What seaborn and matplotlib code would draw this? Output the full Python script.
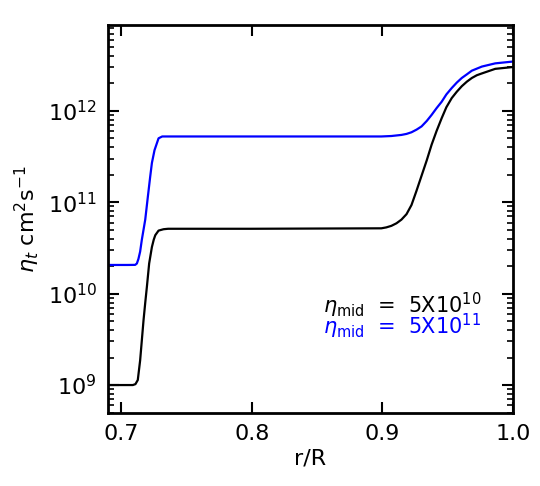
import numpy as np
import pandas as pd
import matplotlib
matplotlib.use("Agg")
import matplotlib.pyplot as plt
import seaborn as sns
from matplotlib.ticker import LogLocator, FixedLocator, NullFormatter

# Data (r/R, log10 eta_t)
r_black = [0.69, 0.705, 0.709, 0.711, 0.7128, 0.7146, 0.7159, 0.7172, 0.7185, 0.7198,
           0.7215, 0.7236, 0.725, 0.7262, 0.7287, 0.7325, 0.736, 0.80, 0.8992, 0.903,
           0.9069, 0.9108, 0.9146, 0.9185, 0.9223, 0.926, 0.930, 0.934, 0.9377, 0.9415,
           0.9454, 0.949, 0.9531, 0.957, 0.9608, 0.9647, 0.9685, 0.9723, 0.9762, 0.9864, 1.0]
log_black = [9.0, 9.0, 9.0, 9.01, 9.055, 9.27, 9.49, 9.71, 9.90, 10.08,
             10.33, 10.51, 10.59, 10.64, 10.69, 10.705, 10.71, 10.71, 10.715, 10.725,
             10.742, 10.77, 10.81, 10.87, 10.97, 11.12, 11.29, 11.46, 11.63, 11.78,
             11.92, 12.04, 12.14, 12.21, 12.27, 12.32, 12.36, 12.39, 12.41, 12.46, 12.48]

r_blue = [0.69, 0.705, 0.7108, 0.7121, 0.7133, 0.7146, 0.7159, 0.7172, 0.7185, 0.7205,
          0.7223, 0.7236, 0.7256, 0.7287, 0.7315, 0.736, 0.80, 0.8992, 0.9069, 0.9146,
          0.9185, 0.9223, 0.9262, 0.930, 0.934, 0.9377, 0.9415, 0.9454, 0.949, 0.9531,
          0.957, 0.9608, 0.9647, 0.9685, 0.9762, 0.9864, 1.0]
log_blue = [10.314, 10.314, 10.315, 10.33, 10.38, 10.46, 10.59, 10.70, 10.81, 11.06,
            11.28, 11.43, 11.57, 11.70, 11.72, 11.72, 11.72, 11.72, 11.725, 11.737,
            11.748, 11.766, 11.795, 11.83, 11.89, 11.956, 12.03, 12.10, 12.18, 12.25,
            12.31, 12.36, 12.40, 12.44, 12.485, 12.52, 12.54]

x_ticks = [0.7, 0.8, 0.9, 1.0]
x_ticklabels = ["0.7", "0.8", "0.9", "1.0"]
label_black = r"$\eta_{\mathrm{mid}}$  =  5X10$^{10}$"
label_blue = r"$\eta_{\mathrm{mid}}$  =  5X10$^{11}$"

df_black = pd.DataFrame({"r": r_black, "eta": np.power(10.0, log_black)})
df_blue = pd.DataFrame({"r": r_blue, "eta": np.power(10.0, log_blue)})

sns.set_style("ticks")
plt.rcParams["font.family"] = ["DejaVu Sans"]
plt.rcParams["mathtext.fontset"] = "dejavusans"
plt.rcParams["text.color"] = "black"
plt.rcParams["axes.labelcolor"] = "black"
plt.rcParams["xtick.color"] = "black"
plt.rcParams["ytick.color"] = "black"

fig = plt.figure(figsize=(5.4, 4.86), dpi=100)
ax = fig.add_axes([0.2, 0.150, 0.75, 0.7986])

sns.lineplot(data=df_black, x="r", y="eta", ax=ax, color="black", lw=1.6)
sns.lineplot(data=df_blue, x="r", y="eta", ax=ax, color="#0000ff", lw=1.6)

ax.set_yscale("log")
ax.set_xlim(0.69, 1.0)
ax.set_ylim(10**8.693, 10**12.94)

ax.xaxis.set_major_locator(FixedLocator(x_ticks))
ax.set_xticklabels(x_ticklabels)
ax.yaxis.set_major_locator(LogLocator(base=10, numticks=20))
ax.yaxis.set_minor_locator(LogLocator(base=10, subs=np.arange(2, 10), numticks=20))
ax.yaxis.set_minor_formatter(NullFormatter())

ax.tick_params(which="major", direction="in", length=8, width=1.5,
               top=True, right=True, labelsize=16, pad=8,
               color="black", labelcolor="black")
ax.tick_params(which="minor", direction="in", length=4, width=1.2,
               top=False, right=True, left=True, bottom=False)
for s in ax.spines.values():
    s.set_linewidth(2)
    s.set_color("black")

ax.set_xlabel("r/R", fontsize=16, labelpad=3)
ax.set_ylabel(r"$\eta_t$ cm$^2$s$^{-1}$", fontsize=16, labelpad=4)

ax.text(0.531, 0.258, label_black, transform=ax.transAxes, fontsize=15,
        color="black", va="baseline", ha="left")
ax.text(0.531, 0.203, label_blue, transform=ax.transAxes, fontsize=15,
        color="#0000ff", va="baseline", ha="left")

fig.savefig("out.png", dpi=100)
